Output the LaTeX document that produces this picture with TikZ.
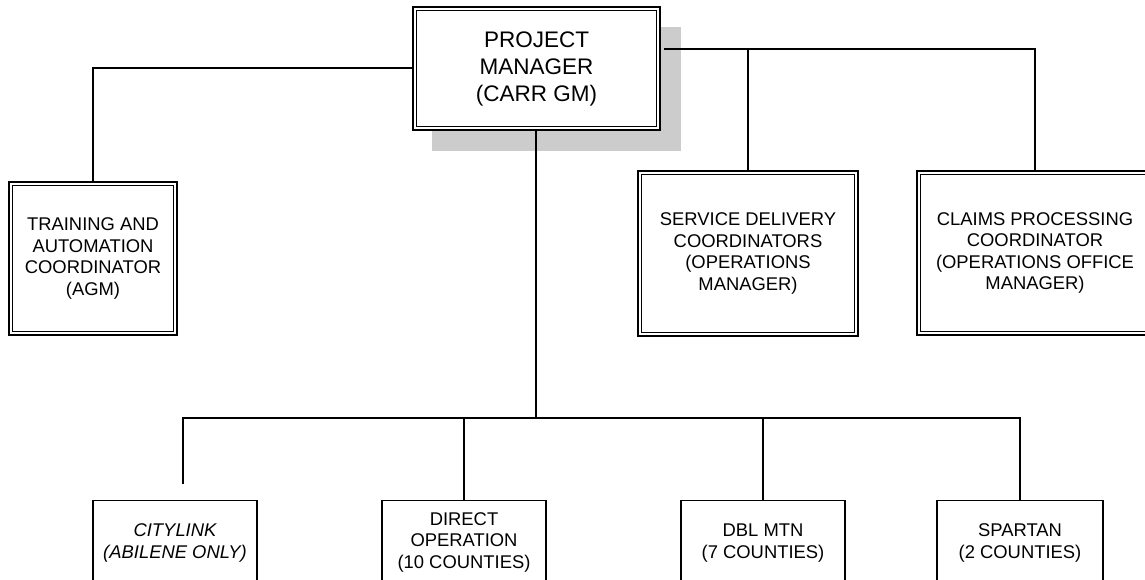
\documentclass[tikz,border=0pt]{standalone}
\usepackage{fontspec}
\setmainfont{Liberation Sans}
\definecolor{shadowgray}{HTML}{CCCCCC}
\begin{document}
\begin{tikzpicture}[x=1pt,y=-1pt,
  dblbox/.style={draw, line width=1.5pt, fill=white, inner sep=0pt, align=center,
                 font=\fontsize{18.4}{21.5}\selectfont},
  sbox/.style={draw, line width=1.3pt, inner sep=0pt},
  txt/.style={align=center, inner sep=0pt, font=\fontsize{18.4}{21.5}\selectfont},
  wire/.style={line width=1.2pt},
  innerline/.style={line width=0.9pt}]
\useasboundingbox (0,0) rectangle (1145,580);
\clip (0,0) rectangle (1145,580);

% shadow and project manager
\node[fill=shadowgray, inner sep=0pt, minimum width=249pt, minimum height=124pt] (pmshadow) at (556.5,89) {};
\node[dblbox, minimum width=247pt, minimum height=123pt,
      font=\fontsize{22.5}{27}\selectfont] (pm) at (536.5,68.5) {PROJECT\\MANAGER\\(CARR GM)};

% second level
\node[dblbox, minimum width=168pt, minimum height=153pt] (tr) at (93,258.5)
  {TRAINING AND\\AUTOMATION\\COORDINATOR\\(AGM)};
\node[dblbox, minimum width=220pt, minimum height=165pt] (sd) at (748,253.5)
  {SERVICE DELIVERY\\COORDINATORS\\(OPERATIONS\\MANAGER)};
\node[dblbox, minimum width=236pt, minimum height=164pt] (cp) at (1035,253)
  {CLAIMS PROCESSING\\COORDINATOR\\(OPERATIONS OFFICE\\MANAGER)};

\foreach \n in {pm,tr,sd,cp}
  \draw[innerline] ([xshift=4pt,yshift=-4pt]\n.north west) rectangle ([xshift=-4pt,yshift=4pt]\n.south east);

% bottom level boxes
\node[sbox, minimum width=164pt, minimum height=100pt, anchor=north] (cl) at (175,500) {};
\node[sbox, minimum width=164pt, minimum height=100pt, anchor=north] (dir) at (464,500) {};
\node[sbox, minimum width=164pt, minimum height=100pt, anchor=north] (dbl) at (763,500) {};
\node[sbox, minimum width=166pt, minimum height=100pt, anchor=north] (sp) at (1020,500) {};

\node[txt, font=\fontsize{18.4}{21.5}\selectfont\itshape] (clt) at (175,543) {CITYLINK\\(ABILENE ONLY)};
\node[txt] (dirt) at (464,542) {DIRECT\\OPERATION\\(10 COUNTIES)};
\node[txt] (dblt) at (763,543) {DBL MTN\\(7 COUNTIES)};
\node[txt] (spt) at (1020,543) {SPARTAN\\(2 COUNTIES)};

% connectors
\coordinate (ly) at (0,68);
\coordinate (ry) at (0,49);
\coordinate (by) at (0,418);
\coordinate (bx) at (536,0);
\coordinate (clend) at (183,484);

\draw[wire] (pm.west |- ly) -| (tr.north);
\draw[wire] ([xshift=3pt]pm.east |- ry) -| (cp.north);
\draw[wire] (sd.north) -- (sd.north |- ry);

\draw[wire] (pm.south -| bx) -- (bx |- by);
\draw[wire] (clend) -- (clend |- by) -| (sp.north);
\draw[wire] (dir.north) -- (dir.north |- by);
\draw[wire] (dbl.north) -- (dbl.north |- by);
\end{tikzpicture}
\end{document}
